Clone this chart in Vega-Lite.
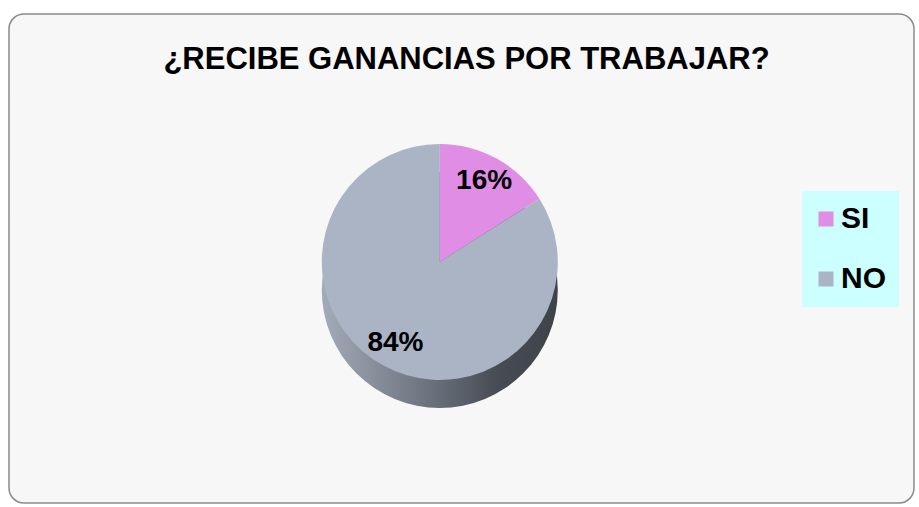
{
  "$schema": "https://vega.github.io/schema/vega-lite/v6.json",
  "width": 905,
  "height": 489,
  "padding": {"left": 9, "top": 14, "right": 5, "bottom": 4},
  "autosize": {"type": "none"},
  "background": "white",
  "config": {
    "view": {"stroke": null}
  },
  "title": {
    "text": "¿RECIBE GANANCIAS  POR TRABAJAR?",
    "font": "Liberation Sans",
    "fontSize": 31,
    "fontWeight": "bold",
    "color": "#000000",
    "anchor": "middle",
    "dx": 5,
    "offset": -63
  },
  "data": {
    "values": [
      {"respuesta": "SI", "valor": 16, "etiqueta": "16%", "orden": 1},
      {"respuesta": "NO", "valor": 84, "etiqueta": "84%", "orden": 2}
    ]
  },
  "layer": [
    {
      "transform": [{"aggregate": [{"op": "count", "as": "n"}]}],
      "mark": {
        "type": "rect",
        "x": 0,
        "y": 0,
        "x2": {"expr": "width"},
        "y2": {"expr": "height"},
        "cornerRadius": 15,
        "fill": "#f7f7f7",
        "stroke": "#8a8a8a",
        "strokeWidth": 1.5
      },
      "encoding": {}
    },
    {
      "transform": [{"aggregate": [{"op": "count", "as": "n"}]}],
      "mark": {
        "type": "arc",
        "theta": 0,
        "theta2": 6.2832,
        "radius": 118,
        "x": {"expr": "width*0.476"},
        "y": {"expr": "height*0.507+28"},
        "fill": {
          "gradient": "linear",
          "x1": 0, "y1": 0, "x2": 1, "y2": 0,
          "stops": [
            {"offset": 0, "color": "#a3abb8"},
            {"offset": 0.45, "color": "#6c737e"},
            {"offset": 0.75, "color": "#474b53"},
            {"offset": 1, "color": "#3e4249"}
          ]
        }
      },
      "encoding": {}
    },
    {
      "mark": {
        "type": "arc",
        "radius": 118,
        "x": {"expr": "width*0.476"},
        "y": {"expr": "height*0.507"}
      },
      "encoding": {
        "theta": {"field": "valor", "type": "quantitative", "stack": true},
        "order": {"field": "orden", "type": "quantitative"},
        "color": {
          "field": "respuesta",
          "type": "nominal",
          "scale": {"domain": ["SI", "NO"], "range": ["#e08de6", "#aab4c4"]},
          "legend": {
            "orient": "none",
            "legendX": 793,
            "legendY": 177,
            "fillColor": "#ccffff",
            "padding": 13,
            "symbolType": "square",
            "symbolSize": 225,
            "symbolStrokeWidth": 0,
            "symbolOffset": -4,
            "labelFont": "Liberation Sans",
            "labelFontSize": 30,
            "labelFontWeight": "bold",
            "labelColor": "#000000",
            "labelOffset": 0,
            "rowPadding": 30,
            "title": null
          }
        }
      }
    },
    {
      "mark": {
        "type": "text",
        "radius": 92,
        "x": {"expr": "width*0.476"},
        "y": {"expr": "height*0.507"},
        "font": "Liberation Sans",
        "fontSize": 28,
        "fontWeight": "bold",
        "color": "#000000"
      },
      "encoding": {
        "theta": {"field": "valor", "type": "quantitative", "stack": true},
        "order": {"field": "orden", "type": "quantitative"},
        "text": {"field": "etiqueta", "type": "nominal"}
      }
    }
  ]
}
